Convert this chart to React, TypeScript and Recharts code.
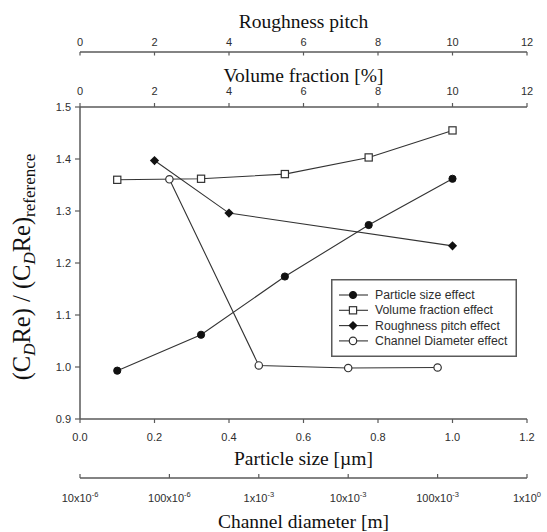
import React from 'react';
import { ScatterChart, Scatter, XAxis, YAxis, Legend, Label } from 'recharts';

// ---- data ----
const particleSize = [0.1, 0.325, 0.55, 0.775, 1.0];
const particleEffect = [0.993, 1.062, 1.174, 1.273, 1.362];

const volumeFraction = [1, 3.25, 5.5, 7.75, 10];
const volumeEffect = [1.36, 1.362, 1.371, 1.403, 1.455];

const roughnessPitch = [2, 4, 10];
const roughnessEffect = [1.397, 1.296, 1.233];

const channelDiameter = [1e-4, 1e-3, 1e-2, 1e-1];
const channelEffect = [1.361, 1.003, 0.998, 0.999];

const seriesNames = [
  'Particle size effect',
  'Volume fraction effect',
  'Roughness pitch effect',
  'Channel Diameter effect',
];

const yTicks = [0.9, 1.0, 1.1, 1.2, 1.3, 1.4, 1.5];
const particleTicks = [0, 0.2, 0.4, 0.6, 0.8, 1.0, 1.2];
const volumeTicks = [0, 2, 4, 6, 8, 10, 12];
const roughnessTicks = [0, 2, 4, 6, 8, 10, 12];
const channelTicks = [1e-5, 1e-4, 1e-3, 1e-2, 1e-1, 1];
const channelTickBase = ['10x10', '100x10', '1x10', '10x10', '100x10', '1x10'];
const channelTickExp = ['-6', '-6', '-3', '-3', '-3', '0'];

const toXY = (xs: number[], ys: number[]) => xs.map((x, i) => ({ x, y: ys[i] }));
const particleData = toXY(particleSize, particleEffect);
const volumeData = toXY(volumeFraction, volumeEffect);
const roughnessData = toXY(roughnessPitch, roughnessEffect);
const channelData = toXY(channelDiameter, channelEffect);

// axis ids (sorted order decides stacking: first = nearest to plot)
const ID_PS = 'x1ps';
const ID_CD = 'x2cd';
const ID_VF = 'x1vf';
const ID_RP = 'x2rp';

// ---- styles ----
const SANS = '"Liberation Sans", Arial, sans-serif';
const SERIF = '"Liberation Serif", "Times New Roman", serif';
const INK = '#2e2e2e';
const AXIS = '#5a5a5a';
const LINE = '#333';

// ---- ticks ----
const makeXTick = (dir: number, len: number, dy: number, fmt: (v: number) => React.ReactNode) =>
  (props: any) => {
    const { x, y, payload } = props;
    return (
      <g>
        <line x1={x} x2={x} y1={y} y2={y + dir * len} stroke={AXIS} strokeWidth={1.2} />
        <text x={x} y={y + dy} textAnchor="middle" dominantBaseline="central" fontFamily={SANS} fontSize={11} fill={INK}>
          {fmt(payload.value)}
        </text>
      </g>
    );
  };

const fmtInt = (v: number) => String(Math.round(v));
const fmt1 = (v: number) => v.toFixed(1);
const fmtChannel = (v: number) => {
  const i = Math.round(Math.log10(v)) + 5;
  return (
    <>
      <tspan>{channelTickBase[i]}</tspan>
      <tspan dy={-4} fontSize={7.5}>{channelTickExp[i]}</tspan>
    </>
  );
};

const YTick = (props: any) => {
  const { x, y, payload } = props;
  return (
    <g>
      <line x1={x} x2={x - 5} y1={y} y2={y} stroke={AXIS} strokeWidth={1.2} />
      <text x={x - 9} y={y} textAnchor="end" dominantBaseline="central" fontFamily={SANS} fontSize={11} fill={INK}>
        {fmt1(payload.value)}
      </text>
    </g>
  );
};

// ---- axis titles ----
const xTitle = (text: string, top: boolean, dy: number) => (props: any) => {
  const vb = props.viewBox || {};
  const lineY = top ? vb.y + vb.height : vb.y;
  const cx = vb.x + vb.width / 2;
  return (
    <text x={cx} y={lineY + dy} textAnchor="middle" dominantBaseline="central" fontFamily={SERIF} fontSize={19.5} fill="#111">
      {text}
    </text>
  );
};

const yTitle = (props: any) => {
  const vb = props.viewBox || {};
  const cx = 30;
  const cy = vb.y + vb.height / 2 + 4;
  return (
    <text x={cx} y={cy} transform={`rotate(-90 ${cx} ${cy})`} textAnchor="middle" fontFamily={SERIF} fontSize={24.5} fill="#111">
      <tspan>(C</tspan>
      <tspan fontSize={17} fontStyle="italic" dy={5}>D</tspan>
      <tspan dy={-5}>Re) / (C</tspan>
      <tspan fontSize={17} fontStyle="italic" dy={5}>D</tspan>
      <tspan dy={-5}>Re)</tspan>
      <tspan fontSize={17} dy={5}>reference</tspan>
    </text>
  );
};

// ---- markers ----
const FilledCircle = (p: any) => <circle cx={p.cx} cy={p.cy} r={3.6} fill="#111" stroke="#111" />;
const OpenSquare = (p: any) => (
  <rect x={p.cx - 3.6} y={p.cy - 3.6} width={7.2} height={7.2} fill="#fff" stroke={LINE} strokeWidth={1.2} />
);
const FilledDiamond = (p: any) => (
  <polygon
    points={`${p.cx},${p.cy - 4.6} ${p.cx + 4.6},${p.cy} ${p.cx},${p.cy + 4.6} ${p.cx - 4.6},${p.cy}`}
    fill="#111"
  />
);
const OpenCircle = (p: any) => <circle cx={p.cx} cy={p.cy} r={3.7} fill="#fff" stroke={LINE} strokeWidth={1.2} />;

const markerFns = [FilledCircle, OpenSquare, FilledDiamond, OpenCircle];

const renderLegend = () => (
  <svg width={186} height={78} style={{ display: 'block' }}>
    <rect x={0.75} y={0.75} width={184.5} height={76.5} fill="#fff" stroke={AXIS} strokeWidth={1.5} />
    {seriesNames.map((name, i) => {
      const y = 16 + i * 15.3;
      const M = markerFns[i];
      return (
        <g key={name}>
          <line x1={8} x2={37} y1={y} y2={y} stroke={LINE} strokeWidth={1.1} />
          <M cx={22} cy={y} />
          <text x={44} y={y} dominantBaseline="central" fontFamily={SANS} fontSize={12.3} fill={INK}>
            {name}
          </text>
        </g>
      );
    })}
  </svg>
);

const lineStyle = { stroke: LINE, strokeWidth: 1.1 };
const axisLine = { stroke: AXIS, strokeWidth: 1.5 };

export default function App() {
  return (
    <div style={{ position: 'absolute', left: 0, top: 0, background: '#fff' }}>
      <ScatterChart width={547} height={532} margin={{ top: 0, right: 20, bottom: 0, left: 0 }}>
        <XAxis
          xAxisId={ID_PS}
          dataKey="x"
          type="number"
          orientation="bottom"
          domain={[0, 1.2]}
          ticks={particleTicks}
          interval={0}
          height={59}
          tickSize={0}
          tickMargin={0}
          tickLine={false}
          axisLine={axisLine}
          tick={makeXTick(1, 4, 17.5, fmt1)}
          label={<Label content={xTitle('Particle size [\u00B5m]', false, 39)} />}
        />
        <XAxis
          xAxisId={ID_CD}
          dataKey="x"
          type="number"
          scale="log"
          orientation="bottom"
          domain={[1e-5, 1]}
          allowDataOverflow
          ticks={channelTicks}
          interval={0}
          height={54}
          tickSize={0}
          tickMargin={0}
          tickLine={false}
          axisLine={axisLine}
          tick={makeXTick(-1, 4, 20, fmtChannel)}
          label={<Label content={xTitle('Channel diameter [m]', false, 43)} />}
        />
        <XAxis
          xAxisId={ID_VF}
          dataKey="x"
          type="number"
          orientation="top"
          domain={[0, 12]}
          ticks={volumeTicks}
          interval={0}
          height={55}
          tickSize={0}
          tickMargin={0}
          tickLine={false}
          axisLine={axisLine}
          tick={makeXTick(-1, 4, -16.5, fmtInt)}
          label={<Label content={xTitle('Volume fraction [%]', true, -32)} />}
        />
        <XAxis
          xAxisId={ID_RP}
          dataKey="x"
          type="number"
          orientation="top"
          domain={[0, 12]}
          ticks={roughnessTicks}
          interval={0}
          height={52}
          tickSize={0}
          tickMargin={0}
          tickLine={false}
          axisLine={axisLine}
          tick={makeXTick(1, 3.5, -10.5, fmtInt)}
          label={<Label content={xTitle('Roughness pitch', true, -31)} />}
        />
        <YAxis
          yAxisId="left"
          dataKey="y"
          type="number"
          domain={[0.9, 1.5]}
          ticks={yTicks}
          interval={0}
          width={80}
          tickSize={0}
          tickMargin={0}
          tickLine={false}
          axisLine={axisLine}
          tick={YTick}
          label={<Label content={yTitle} />}
        />
        <YAxis
          yAxisId="right"
          orientation="right"
          type="number"
          domain={[0, 1]}
          width={0}
          tick={false}
          tickLine={false}
          axisLine={axisLine}
        />
        <Scatter
          name={seriesNames[0]}
          data={particleData}
          xAxisId={ID_PS}
          yAxisId="left"
          line={lineStyle}
          shape={FilledCircle}
          isAnimationActive={false}
        />
        <Scatter
          name={seriesNames[1]}
          data={volumeData}
          xAxisId={ID_VF}
          yAxisId="left"
          line={lineStyle}
          shape={OpenSquare}
          isAnimationActive={false}
        />
        <Scatter
          name={seriesNames[2]}
          data={roughnessData}
          xAxisId={ID_RP}
          yAxisId="left"
          line={lineStyle}
          shape={FilledDiamond}
          isAnimationActive={false}
        />
        <Scatter
          name={seriesNames[3]}
          data={channelData}
          xAxisId={ID_CD}
          yAxisId="left"
          line={lineStyle}
          shape={OpenCircle}
          isAnimationActive={false}
        />
        <Legend
          layout="vertical"
          align="center"
          verticalAlign="middle"
          wrapperStyle={{ left: 331, top: 279, width: 186, height: 78 }}
          content={renderLegend}
        />
      </ScatterChart>
    </div>
  );
}
